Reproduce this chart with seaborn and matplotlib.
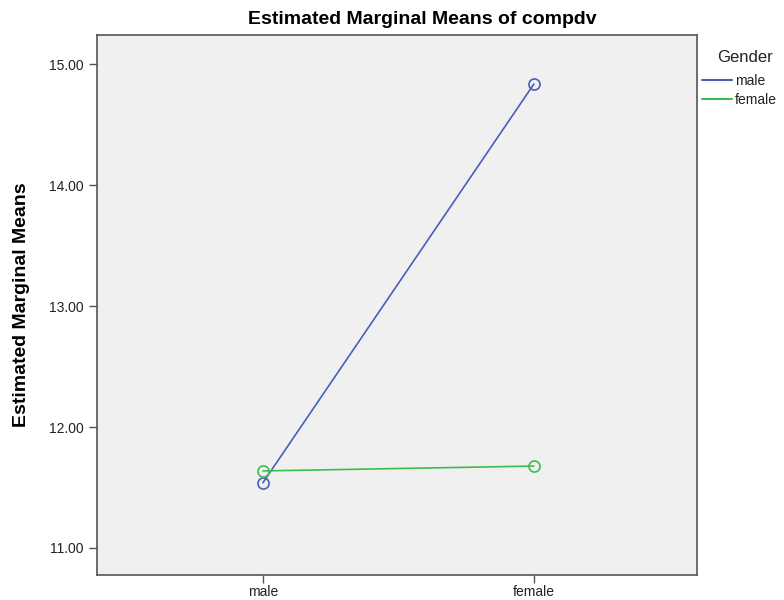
import numpy as np
import pandas as pd
import matplotlib
matplotlib.use("Agg")
import matplotlib.pyplot as plt
import seaborn as sns

# values
categories = ["male", "female"]
male_means = [11.54, 14.835]
female_means = [11.637, 11.677]
groups = ["male", "female"]

df = pd.DataFrame({
    "x": categories * 2,
    "mean": male_means + female_means,
    "Gender": [groups[0]] * 2 + [groups[1]] * 2,
})

sns.set_style("white")
plt.rcParams["font.family"] = ["Liberation Sans", "DejaVu Sans"]

palette = {"male": "#4a5fb8", "female": "#3cbf4a"}

fig = plt.figure(figsize=(7.84, 6), dpi=100)
ax = fig.add_axes([0.1237, 0.0417, 0.765, 0.9])
ax.set_facecolor("#f0f0f0")

sns.lineplot(data=df, x="x", y="mean", hue="Gender", hue_order=groups,
             palette=palette, marker="o", markersize=8, linewidth=1.2,
             sort=False, legend=False, ax=ax)

# SPSS style open circles
for line in ax.lines:
    line.set_markerfacecolor("none")
    line.set_markeredgecolor(line.get_color())
    line.set_markeredgewidth(1.2)

ax.set_xlim(-0.6125, 1.601)
ax.set_ylim(10.777, 15.24)
ax.set_yticks([11, 12, 13, 14, 15])
ax.set_yticklabels([f"{v:.2f}" for v in [11, 12, 13, 14, 15]], fontsize=10, color="#222222")
ax.set_xticks([0, 1])
ax.set_xticklabels(categories, fontsize=10, color="#222222")
ax.tick_params(axis="both", direction="out", length=6, width=1, color="#555555", left=True, bottom=True)
ax.tick_params(axis="x", pad=1.5)
ax.set_xlabel("")
ax.set_ylabel("Estimated Marginal Means", fontsize=14, fontweight="bold", labelpad=14, color="black")
ax.set_title("Estimated Marginal Means of compdv", fontsize=14, fontweight="bold",
             pad=8, x=0.543, color="black")

for s in ax.spines.values():
    s.set_color("#555555")
    s.set_linewidth(1.2)

# legend outside on the right, title placed separately
fig.text(0.950, 0.905, "Gender", fontsize=12, ha="center", va="center", color="#222222")
handles = [plt.Line2D([], [], color=palette[g], lw=1.5) for g in groups]
leg = fig.legend(handles, groups, loc="upper left",
                 bbox_to_anchor=(0.895, 0.877), frameon=False, fontsize=10,
                 handlelength=2.2, handletextpad=0.2, borderpad=0,
                 labelspacing=0.36, borderaxespad=0)
for t in leg.get_texts():
    t.set_color("#222222")

fig.savefig("out.png", dpi=100)
